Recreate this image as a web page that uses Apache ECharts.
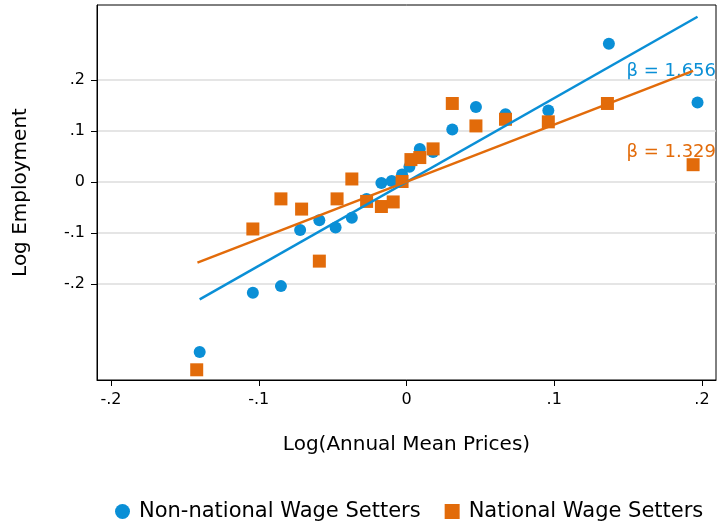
<!DOCTYPE html>
<html>
<head>
<meta charset="utf-8">
<script src="https://cdn.jsdelivr.net/npm/echarts@6/dist/echarts.min.js"></script>
<style>html,body{margin:0;padding:0;background:#fff}#chart{width:717px;height:529px}</style>
</head>
<body>
<div id="chart"></div>
<script>
// scatter points, [log price, log employment]
var nonNational = [
    [-0.140, -0.333], [-0.104, -0.217], [-0.085, -0.204], [-0.072, -0.094],
    [-0.059, -0.075], [-0.048, -0.089], [-0.037, -0.070], [-0.027, -0.033],
    [-0.017, -0.002], [-0.010, 0.002], [-0.003, 0.015], [0.002, 0.030],
    [0.009, 0.065], [0.018, 0.059], [0.031, 0.103], [0.047, 0.147],
    [0.067, 0.133], [0.096, 0.140], [0.137, 0.271], [0.197, 0.156]
];
var national = [
    [-0.142, -0.368], [-0.104, -0.092], [-0.085, -0.033], [-0.071, -0.053],
    [-0.059, -0.155], [-0.047, -0.033], [-0.037, 0.006], [-0.027, -0.038],
    [-0.017, -0.048], [-0.009, -0.039], [-0.003, 0.001], [0.003, 0.044],
    [0.009, 0.048], [0.018, 0.065], [0.031, 0.154], [0.047, 0.110],
    [0.067, 0.123], [0.096, 0.118], [0.136, 0.154], [0.194, 0.034]
];
// fitted lines
var fitNonNational = [[-0.140, -0.230], [0.197, 0.324]];
var fitNational = [[-0.1415, -0.158], [0.194, 0.218]];
var tickValues = [-0.2, -0.1, 0, 0.1, 0.2];

var blue = '#0a8fd6', orange = '#e26b0a';
var font = 'DejaVu Sans';
function fmt(v) {
    if (Math.abs(v) < 1e-9) return '0';
    var s = v.toFixed(1);
    return s.replace('0.', '.');
}
var chart = echarts.init(document.getElementById('chart'));
var option = {
    animation: false,
    grid: { left: 97, right: 1, top: 5, bottom: 149, show: true, borderColor: '#000', borderWidth: 1 },
    xAxis: {
        type: 'value', min: -0.2095, max: 0.2095,
        name: 'Log(Annual Mean Prices)', nameLocation: 'middle', nameGap: 55,
        nameTextStyle: { fontFamily: font, fontSize: 20, color: '#000' },
        axisLine: { onZero: false, lineStyle: { color: '#000' } },
        axisTick: { customValues: tickValues, length: 6, lineStyle: { color: '#000' } },
        axisLabel: { customValues: tickValues, formatter: fmt, margin: 12,
            fontFamily: font, fontSize: 16, color: '#000' },
        splitLine: { show: false }
    },
    yAxis: {
        type: 'value', min: -0.388, max: 0.347,
        name: 'Log Employment', nameLocation: 'middle', nameGap: 66,
        nameTextStyle: { fontFamily: font, fontSize: 20, color: '#000' },
        axisLine: { show: true, onZero: false, lineStyle: { color: '#000' } },
        axisTick: { show: true, customValues: tickValues, length: 6, lineStyle: { color: '#000' } },
        axisLabel: { customValues: tickValues, formatter: fmt, margin: 12,
            fontFamily: font, fontSize: 16, color: '#000' },
        splitLine: { show: true, customValues: tickValues, lineStyle: { color: '#dcdcdc', width: 1.5 } }
    },
    legend: {
        bottom: 2, left: 110, itemGap: 24, itemWidth: 15, itemHeight: 15,
        textStyle: { fontFamily: font, fontSize: 21, color: '#000', padding: [0, 0, 0, 4] },
        data: [{ name: 'Non-national Wage Setters', icon: 'circle' }, { name: 'National Wage Setters', icon: 'rect' }]
    },
    graphic: [
        { type: 'text', right: 1, top: 62, style: { text: 'β = 1.656', fill: blue, font: '18px "DejaVu Sans"' } },
        { type: 'text', right: 1, top: 143, style: { text: 'β = 1.329', fill: orange, font: '18px "DejaVu Sans"' } }
    ],
    series: [
        { name: 'Non-national Wage Setters', type: 'scatter', symbol: 'circle', symbolSize: 12,
          itemStyle: { color: blue, opacity: 1 }, data: nonNational, z: 3 },
        { name: 'National Wage Setters', type: 'scatter', symbol: 'rect', symbolSize: 13,
          itemStyle: { color: orange, opacity: 1 }, data: national, z: 4 },
        { type: 'line', data: fitNonNational, symbol: 'none', lineStyle: { color: blue, width: 2.5 }, z: 5 },
        { type: 'line', data: fitNational, symbol: 'none', lineStyle: { color: orange, width: 2.5 }, z: 5 }
    ]
};
chart.setOption(option);
</script>
</body>
</html>
